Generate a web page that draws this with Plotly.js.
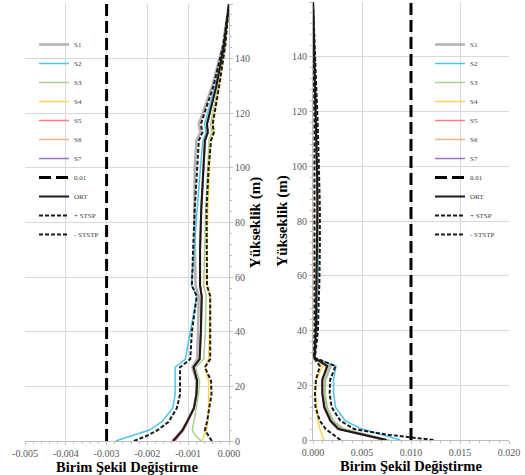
<!DOCTYPE html>
<html>
<head>
<meta charset="utf-8">
<script src="https://cdn.plot.ly/plotly-3.0.1.min.js"></script>
<style>html,body{margin:0;padding:0;background:#fff;}#chart{width:525px;height:475px;}</style>
</head>
<body>
<div id="chart"></div>
<script>
// Heights (m) shared by all series
const heights = [0, 2, 4, 7, 12, 17, 22, 27, 30, 40, 53, 57, 70, 85, 100, 110, 113, 116, 130, 145, 160];
const limitHeights = [0, 160];

const seriesNames = ['S1', 'S2', 'S3', 'S4', 'S5', 'S6', 'S7', '0.01', 'ORT', '+ STSP', '- STSTP'];

// Left panel (negative strain)
const leftS1 = [-0.00140, -0.00124, -0.00112, -0.00102, -0.00086, -0.00080, -0.00080, -0.00090, -0.00078, -0.00076, -0.00074, -0.00082, -0.00084, -0.00085, -0.00084, -0.00080, -0.00070, -0.00074, -0.00041, -0.00015, 0];
const leftS2 = [-0.00278, -0.00235, -0.00195, -0.00165, -0.00138, -0.00132, -0.00132, -0.00132, -0.00107, -0.00095, -0.00079, -0.00092, -0.00086, -0.00078, -0.00070, -0.00064, -0.00056, -0.00060, -0.00034, -0.00012, 0];
const leftS3 = [-0.00068, -0.00082, -0.00090, -0.00086, -0.00080, -0.00075, -0.00072, -0.00082, -0.00062, -0.00058, -0.00056, -0.00062, -0.00060, -0.00057, -0.00052, -0.00049, -0.00042, -0.00045, -0.00027, -0.00010, 0];
const leftS4 = [-0.00067, -0.00061, -0.00055, -0.00052, -0.00050, -0.00050, -0.00050, -0.00059, -0.00050, -0.00048, -0.00046, -0.00054, -0.00054, -0.00052, -0.00048, -0.00045, -0.00038, -0.00041, -0.00025, -0.00009, 0];
const leftS5 = [-0.00132, -0.00122, -0.00112, -0.00101, -0.00085, -0.00079, -0.00077, -0.00086, -0.00071, -0.00068, -0.00066, -0.00070, -0.00070, -0.00067, -0.00061, -0.00058, -0.00051, -0.00053, -0.00031, -0.00012, 0];
const leftS6 = [-0.00139, -0.00127, -0.00116, -0.00105, -0.00087, -0.00081, -0.00079, -0.00088, -0.00073, -0.00070, -0.00068, -0.00072, -0.00072, -0.00069, -0.00063, -0.00060, -0.00053, -0.00055, -0.00032, -0.00012, 0];
const leftS7 = [-0.00135, -0.00124, -0.00113, -0.00102, -0.00086, -0.00080, -0.00078, -0.00087, -0.00072, -0.00069, -0.00067, -0.00071, -0.00071, -0.00068, -0.00062, -0.00059, -0.00052, -0.00054, -0.00031, -0.00012, 0];
const leftLimit = [-0.003, -0.003];
const leftORT = [-0.00137, -0.00125, -0.00114, -0.00103, -0.00086, -0.00080, -0.00078, -0.00087, -0.00072, -0.00069, -0.00067, -0.00071, -0.00071, -0.00068, -0.00062, -0.00059, -0.00052, -0.00054, -0.00031, -0.00012, 0];
const leftPlus = [-0.00042, -0.00050, -0.00059, -0.00054, -0.00048, -0.00043, -0.00044, -0.00059, -0.00046, -0.00046, -0.00046, -0.00054, -0.00055, -0.00055, -0.00050, -0.00044, -0.00037, -0.00040, -0.00024, -0.00009, 0];
const leftMinus = [-0.00233, -0.00200, -0.00175, -0.00148, -0.00128, -0.00120, -0.00120, -0.00120, -0.00095, -0.00091, -0.00079, -0.00091, -0.00088, -0.00084, -0.00078, -0.00074, -0.00065, -0.00069, -0.00038, -0.00014, 0];

// Right panel (positive strain)
const rightS1 = [0.0073, 0.0052, 0.0030, 0.0020, 0.0014, 0.0012, 0.00125, 0.0018, 0.00015, 0.00035, 0.00042, 0.00045, 0.0005, 0.0005, 0.00045, 0.0004, 0.00036, 0.00034, 0.00022, 0.0001, 0];
const rightS2 = [0.0089, 0.0070, 0.0050, 0.0033, 0.0023, 0.0021, 0.0021, 0.00235, 0.00015, 0.00035, 0.00045, 0.0005, 0.0005, 0.00045, 0.0004, 0.00035, 0.00033, 0.0003, 0.0002, 0.0001, 0];
const rightS3 = [0.0078, 0.0056, 0.0032, 0.0021, 0.0014, 0.0012, 0.0012, 0.0016, 0.00015, 0.0003, 0.00038, 0.00042, 0.00048, 0.00048, 0.00042, 0.00038, 0.00034, 0.00032, 0.00021, 0.0001, 0];
const rightS4 = [0.0011, 0.0009, 0.0007, 0.0005, 0.00035, 0.00025, 0.00035, 0.0010, 0.0001, 0.0002, 0.00025, 0.0003, 0.00035, 0.0004, 0.00038, 0.00033, 0.0003, 0.00028, 0.0002, 0.0001, 0];
const rightS5 = [0.0072, 0.0048, 0.0025, 0.0017, 0.0011, 0.00095, 0.00095, 0.0014, 0.00015, 0.0003, 0.00035, 0.0004, 0.00045, 0.00045, 0.0004, 0.00035, 0.00032, 0.0003, 0.0002, 0.0001, 0];
const rightS6 = [0.0076, 0.0051, 0.0027, 0.0018, 0.0012, 0.0010, 0.0010, 0.0015, 0.00015, 0.0003, 0.00036, 0.00041, 0.00046, 0.00046, 0.00041, 0.00036, 0.00033, 0.00031, 0.0002, 0.0001, 0];
const rightS7 = [0.0074, 0.0050, 0.0026, 0.00175, 0.00115, 0.00095, 0.00095, 0.00145, 0.00015, 0.0003, 0.00035, 0.0004, 0.00045, 0.00045, 0.0004, 0.00035, 0.00032, 0.0003, 0.0002, 0.0001, 0];
const rightLimit = [0.010, 0.010];
const rightORT = [0.0075, 0.0050, 0.0026, 0.0018, 0.00115, 0.00095, 0.00095, 0.00145, 0.00015, 0.0003, 0.00035, 0.0004, 0.00045, 0.00045, 0.0004, 0.00035, 0.00033, 0.0003, 0.0002, 0.0001, 0];
const rightPlus = [0.0123, 0.0075, 0.0042, 0.0028, 0.0019, 0.0017, 0.00175, 0.0023, 0.0002, 0.0005, 0.0006, 0.00065, 0.0007, 0.0007, 0.0006, 0.00055, 0.0005, 0.00048, 0.00032, 0.00015, 0];
const rightMinus = [0.0028, 0.0020, 0.0013, 0.0007, 0.00025, 0.0002, 0.0003, 0.0007, 0.0001, 0.00015, 0.00015, 0.00018, 0.0002, 0.0002, 0.0002, 0.00018, 0.00016, 0.00015, 0.0001, 0.00005, 0];

// Tick labels
const leftTickVals = [-0.005, -0.004, -0.003, -0.002, -0.001, 0];
const leftTickText = ['-0.005', '-0.004', '-0.003', '-0.002', '-0.001', '0.000'];
const rightTickVals = [0, 0.005, 0.010, 0.015, 0.020];
const rightTickText = ['0.000', '0.005', '0.010', '0.015', '0.020'];

const leftSeries = [leftS1, leftS2, leftS3, leftS4, leftS5, leftS6, leftS7, leftLimit, leftORT, leftPlus, leftMinus];
const rightSeries = [rightS1, rightS2, rightS3, rightS4, rightS5, rightS6, rightS7, rightLimit, rightORT, rightPlus, rightMinus];

const lineStyles = [
  {color: '#b3b3b3', width: 2.5},
  {color: '#4cc3f0', width: 1.5},
  {color: '#a9d18e', width: 1.5},
  {color: '#ffd34d', width: 1.5},
  {color: '#ff7c80', width: 1.5},
  {color: '#f4b183', width: 1.5},
  {color: '#9b72cf', width: 1.5},
  {color: '#000000', width: 3, dash: '12px,5px'},
  {color: '#1a1a1a', width: 2},
  {color: '#1a1a1a', width: 2, dash: '4px,2px'},
  {color: '#1a1a1a', width: 2, dash: '4px,2px'}
];

const traces = [];
function addPanel(series, xa, ya, leg) {
  series.forEach((vals, i) => {
    const isLimit = i === 7;
    traces.push({
      type: 'scatter', mode: 'lines',
      x: vals, y: isLimit ? limitHeights : heights,
      xaxis: xa, yaxis: ya, legend: leg,
      name: seriesNames[i], line: lineStyles[i],
      hoverinfo: 'skip'
    });
  });
}
addPanel(leftSeries, 'x', 'y', 'legend');
addPanel(rightSeries, 'x2', 'y2', 'legend2');

const serif = 'Liberation Serif, Times New Roman, serif';
const tickFont = {family: serif, size: 10, color: '#595959'};
const xTitle = {text: 'Birim Şekil Değiştirme', font: {family: serif, size: 14.5, color: '#000', weight: 'bold'}, standoff: 1};
const yTitle = {text: 'Yükseklik (m)', font: {family: serif, size: 15, color: '#000', weight: 'bold'}, standoff: 0};
const grid = '#d9d9d9';
const axLine = '#bfbfbf';

const common = {
  showgrid: true, gridcolor: grid, gridwidth: 1, zeroline: false,
  showline: true, linecolor: axLine, linewidth: 1, mirror: false,
  ticks: 'outside', ticklen: 3, tickcolor: axLine, tickfont: tickFont
};

const legendCommon = {
  font: {family: serif, size: 7, color: '#404040'},
  bgcolor: 'rgba(0,0,0,0)', itemwidth: 30, tracegroupgap: 0,
  xanchor: 'left', yanchor: 'top', y: 1 - 30 / 475
};

const layout = {
  width: 525, height: 475,
  margin: {l: 0, r: 0, t: 0, b: 0},
  paper_bgcolor: '#fff', plot_bgcolor: '#fff',
  showlegend: true,
  legend: Object.assign({}, legendCommon, {x: 34 / 525}),
  legend2: Object.assign({}, legendCommon, {x: 430 / 525}),
  xaxis: Object.assign({}, common, {
    domain: [25 / 525, 229 / 525], anchor: 'y', range: [-0.005, 0],
    tickmode: 'array', tickvals: leftTickVals, ticktext: leftTickText,
    minor: {dtick: 0.0002, tick0: 0, ticks: 'outside', ticklen: 2, tickcolor: axLine, showgrid: false},
    title: xTitle
  }),
  yaxis: Object.assign({}, common, {
    domain: [(475 - 441) / 475, (475 - 4) / 475], anchor: 'x', side: 'right',
    range: [0, 160], dtick: 20, tick0: 0,
    minor: {dtick: 4, tick0: 0, ticks: 'outside', ticklen: 2, tickcolor: axLine, showgrid: false},
    title: yTitle
  }),
  xaxis2: Object.assign({}, common, {
    domain: [313 / 525, 509 / 525], anchor: 'y2', range: [0, 0.02],
    tickmode: 'array', tickvals: rightTickVals, ticktext: rightTickText,
    minor: {dtick: 0.001, tick0: 0, ticks: 'outside', ticklen: 2, tickcolor: axLine, showgrid: false},
    title: xTitle
  }),
  yaxis2: Object.assign({}, common, {
    domain: [(475 - 440) / 475, (475 - 2) / 475], anchor: 'x2', side: 'left',
    range: [0, 160], dtick: 20, tick0: 0,
    minor: {dtick: 4, tick0: 0, ticks: 'outside', ticklen: 2, tickcolor: axLine, showgrid: false},
    title: yTitle
  })
};

Plotly.newPlot('chart', traces, layout, {staticPlot: true, displayModeBar: false});
</script>
</body>
</html>
